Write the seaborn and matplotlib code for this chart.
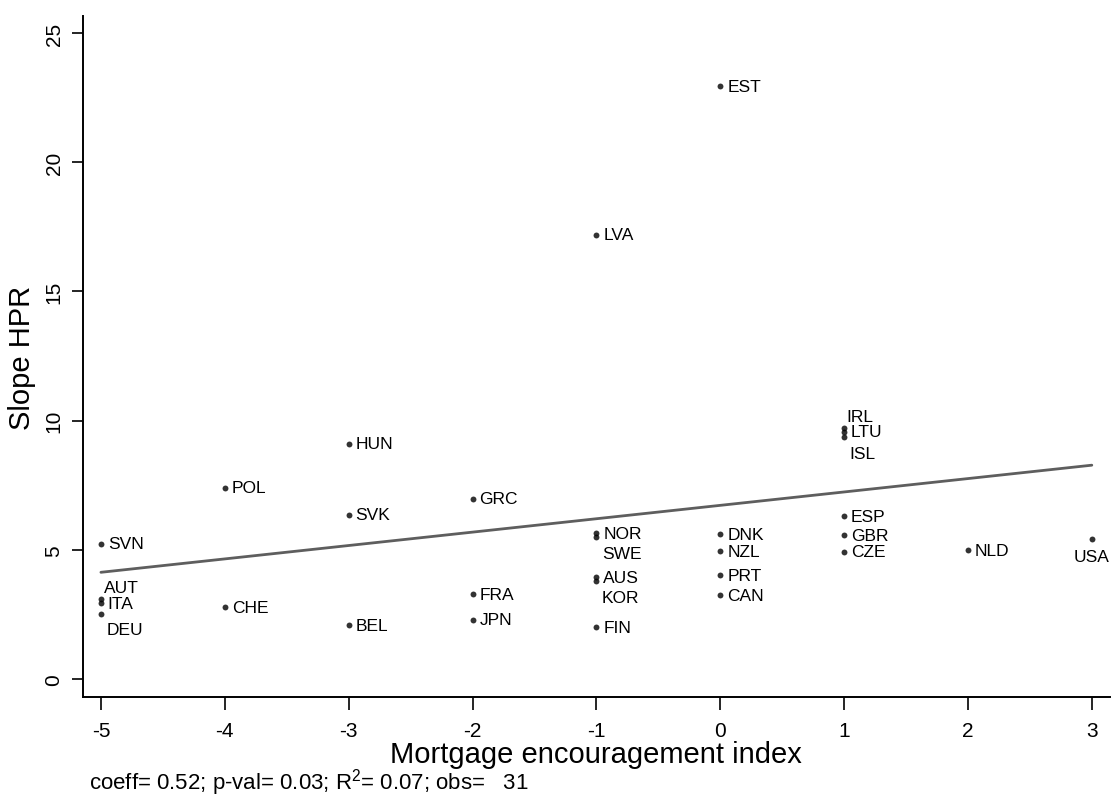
import numpy as np
import pandas as pd
import matplotlib
matplotlib.use("Agg")
import matplotlib.pyplot as plt
import seaborn as sns

# values
countries = ["EST", "LVA", "HUN", "POL", "SVK", "GRC", "SVN", "AUT", "ITA", "DEU",
             "CHE", "BEL", "FRA", "JPN", "NOR", "SWE", "AUS", "KOR", "FIN", "DNK",
             "NZL", "PRT", "CAN", "IRL", "LTU", "ISL", "ESP", "GBR", "CZE", "NLD", "USA"]
mortgage_index = [0, -1, -3, -4, -3, -2, -5, -5, -5, -5,
                  -4, -3, -2, -2, -1, -1, -1, -1, -1, 0,
                  0, 0, 0, 1, 1, 1, 1, 1, 1, 2, 3]
slope_hpr = [22.95, 17.2, 9.1, 7.4, 6.36, 6.98, 5.24, 3.08, 2.93, 2.51,
             2.78, 2.08, 3.28, 2.28, 5.63, 5.48, 3.93, 3.78, 2.0, 5.59,
             4.94, 4.01, 3.24, 9.72, 9.56, 9.35, 6.29, 5.56, 4.92, 4.98, 5.40]
# label placement (clock position as in the original)
label_pos = {"AUT": "above", "DEU": "below", "SWE": "below", "KOR": "below",
             "IRL": "above", "ISL": "below", "USA": "below"}

xticks = [-5, -4, -3, -2, -1, 0, 1, 2, 3]
yticks = [0, 5, 10, 15, 20, 25]
note = "coeff= 0.52; p-val= 0.03; R$^2$= 0.07; obs=   31"

df = pd.DataFrame({"country": countries, "x": mortgage_index, "y": slope_hpr})

sns.set_style("ticks")
plt.rcParams["font.family"] = ["Liberation Sans", "DejaVu Sans"]
plt.rcParams["mathtext.default"] = "regular"
plt.rcParams["axes.unicode_minus"] = False
plt.rcParams.update({"text.color": "black", "axes.labelcolor": "black",
                     "xtick.color": "black", "ytick.color": "black"})

fig = plt.figure(figsize=(11.12, 8.03), dpi=100)
ax = fig.add_axes([0.0746, 0.1308, 0.9234, 0.848])

sns.regplot(data=df, x="x", y="y", ax=ax, ci=None, truncate=True,
            scatter_kws={"s": 18, "color": "black", "linewidths": 0, "zorder": 3},
            line_kws={"color": "#5e5e5e", "linewidth": 2.0})

for _, r in df.iterrows():
    pos = label_pos.get(r["country"], "right")
    if pos == "right":
        xy, ha, va = (5, 0), "left", "center"
    elif pos == "above":
        xy, ha, va = (2, 3), "left", "bottom"
    else:
        xy, ha, va = (4, -6), "left", "top"
    if r["country"] == "USA":
        xy, ha = (0, -7), "center"
    ax.annotate(r["country"], (r["x"], r["y"]), xytext=xy, textcoords="offset points",
                ha=ha, va=va, fontsize=12.5, color="black")

ax.set_xlim(-5.145, 3.145)
ax.set_ylim(-0.7, 25.66)
ax.set_xticks(xticks)
ax.set_yticks(yticks)
ax.tick_params(axis="x", labelsize=15, length=9, width=1.2, pad=8, direction="out")
ax.tick_params(axis="y", labelsize=15, length=8, width=1.2, pad=6, direction="out")
for lab in ax.get_yticklabels():
    lab.set_rotation(90)
    lab.set_va("center")
ax.set_xlabel("Mortgage encouragement index", fontsize=21, labelpad=0)
ax.set_ylabel("Slope HPR", fontsize=21, labelpad=6)
sns.despine(ax=ax)
for s in ["left", "bottom"]:
    ax.spines[s].set_linewidth(1.4)
    ax.spines[s].set_color("black")

fig.text(0.08, 0.006, note, fontsize=16, ha="left", va="bottom")

slope, intercept = np.polyfit(df["x"], df["y"], 1)
print("fit slope", slope, intercept)

fig.savefig("out.png", dpi=100)
